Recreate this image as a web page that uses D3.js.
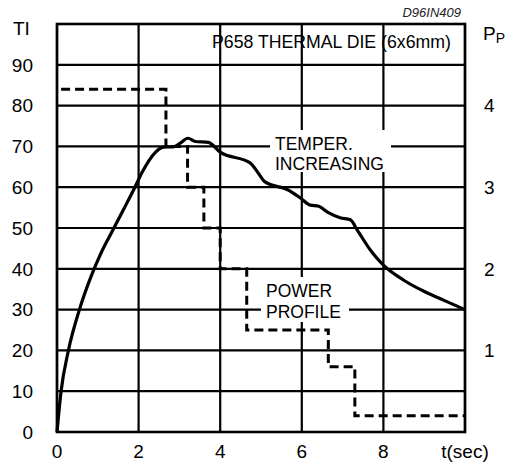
<!DOCTYPE html>
<html>
<head>
<meta charset="utf-8">
<script src="https://cdn.jsdelivr.net/npm/d3@7"></script>
<style>
  body { margin: 0; background: #fff; }
  text { font-family: "Liberation Sans", Arial, Helvetica, sans-serif; fill: #000; }
</style>
</head>
<body>
<div id="chart"></div>
<script>
// temperature curve (TI) vs time
let tempT  = [0, 0.1, 0.28, 0.55, 0.85, 1.1, 1.37, 1.65, 1.91, 2.09, 2.40, 2.60, 2.85, 3.02, 3.21, 3.39, 3.71, 4.0, 4.74, 4.93, 5.10, 5.67, 5.96, 6.21, 6.40, 6.63, 6.94, 7.19, 7.36, 7.68, 8.0, 8.5, 9.03, 9.5, 10];
let tempTI = [0, 10, 20, 30, 38.5, 44.3, 49.5, 54.9, 60, 63.7, 68.4, 69.8, 69.9, 70.8, 72, 71.2, 71, 68.6, 65.9, 63.5, 61.3, 59.3, 57.4, 55.6, 55.4, 53.9, 52.5, 52.0, 49.5, 44.6, 40.9, 37.2, 34.3, 32.2, 30];

// power profile (Pp), step starts
let powerT = [0.1, 2.67, 3.2, 3.6, 4.0, 4.65, 6.65, 7.3, 10];
let powerP = [4.2, 3.5, 3.0, 2.5, 2.0, 1.25, 0.8, 0.2, 0.2];

let leftTicks  = [0, 10, 20, 30, 40, 50, 60, 70, 80, 90];
let rightTicks = [1, 2, 3, 4];
let xTicks     = [0, 2, 4, 6, 8, 10];
let xLabels    = ["0", "2", "4", "6", "8", "t(sec)"];

let width = 518, height = 469;

let svg = d3.select("#chart")
    .append("svg")
    .attr("width", width)
    .attr("height", height);

let x  = d3.scaleLinear().domain([0, 10]).range([57, 465]);
let y  = d3.scaleLinear().domain([0, 100]).range([432, 24]);
let yP = d3.scaleLinear().domain([0, 5]).range([432, 24]);

// grid
svg.append("g")
    .selectAll("line")
    .data(d3.range(0, 101, 10))
    .enter().append("line")
    .attr("x1", x(0)).attr("x2", x(10))
    .attr("y1", function(d) { return y(d); })
    .attr("y2", function(d) { return y(d); })
    .attr("stroke", "#000")
    .attr("stroke-width", 2.2);

svg.append("g")
    .selectAll("line")
    .data(xTicks)
    .enter().append("line")
    .attr("x1", function(d) { return x(d); })
    .attr("x2", function(d) { return x(d); })
    .attr("y1", y(0)).attr("y2", y(100))
    .attr("stroke", "#000")
    .attr("stroke-width", 2.2);

svg.append("rect")
    .attr("x", x(0)).attr("y", y(100))
    .attr("width", x(10) - x(0)).attr("height", y(0) - y(100))
    .attr("fill", "none")
    .attr("stroke", "#000")
    .attr("stroke-width", 2.6);

// white boxes behind the annotations
svg.append("rect").attr("x", 270).attr("y", 130).attr("width", 121).attr("height", 42).attr("fill", "#fff");
svg.append("rect").attr("x", 261).attr("y", 277).attr("width", 88).attr("height", 45).attr("fill", "#fff");

// power profile
let power = powerT.map(function(t, i) { return [t, powerP[i]]; });
svg.append("path")
    .datum(power)
    .attr("d", d3.line()
        .x(function(d) { return x(d[0]); })
        .y(function(d) { return yP(d[1]); })
        .curve(d3.curveStepAfter))
    .attr("fill", "none")
    .attr("stroke", "#000")
    .attr("stroke-width", 3)
    .attr("stroke-dasharray", "9,5");

// temperature
let temp = tempT.map(function(t, i) { return [t, tempTI[i]]; });
svg.append("path")
    .datum(temp)
    .attr("d", d3.line()
        .x(function(d) { return x(d[0]); })
        .y(function(d) { return y(d[1]); })
        .curve(d3.curveMonotoneX))
    .attr("fill", "none")
    .attr("stroke", "#000")
    .attr("stroke-width", 3.2)
    .attr("stroke-linejoin", "round");

// axis labels
svg.append("g")
    .selectAll("text")
    .data(leftTicks)
    .enter().append("text")
    .attr("x", 33)
    .attr("y", function(d) { return y(d); })
    .attr("dy", "0.36em")
    .style("text-anchor", "end")
    .style("font-size", "19px")
    .text(function(d) { return d; });

svg.append("g")
    .selectAll("text")
    .data(rightTicks)
    .enter().append("text")
    .attr("x", 484)
    .attr("y", function(d) { return yP(d); })
    .attr("dy", "0.36em")
    .style("font-size", "19px")
    .text(function(d) { return d; });

svg.append("g")
    .selectAll("text")
    .data(xTicks)
    .enter().append("text")
    .attr("x", function(d) { return x(d); })
    .attr("y", 458)
    .style("text-anchor", "middle")
    .style("font-size", "19px")
    .text(function(d, i) { return xLabels[i]; });

svg.append("text").attr("x", 13).attr("y", 35).style("font-size", "19px").text("TI");

let pp = svg.append("text").attr("x", 483).attr("y", 40).style("font-size", "19px");
pp.append("tspan").text("P");
pp.append("tspan").attr("dy", 3).style("font-size", "14px").text("P");

svg.append("text")
    .attr("x", 461).attr("y", 17)
    .style("text-anchor", "end")
    .style("font-size", "13px")
    .style("font-style", "italic")
    .style("fill", "#222")
    .text("D96IN409");

svg.append("text").attr("x", 212).attr("y", 48).style("font-size", "17.7px").text("P658 THERMAL DIE (6x6mm)");
svg.append("text").attr("x", 275).attr("y", 150).style("font-size", "17.5px").text("TEMPER.");
svg.append("text").attr("x", 275).attr("y", 170).style("font-size", "17.5px").text("INCREASING");
svg.append("text").attr("x", 266).attr("y", 297).style("font-size", "17.5px").text("POWER");
svg.append("text").attr("x", 266).attr("y", 318).style("font-size", "17.5px").text("PROFILE");
</script>
</body>
</html>
